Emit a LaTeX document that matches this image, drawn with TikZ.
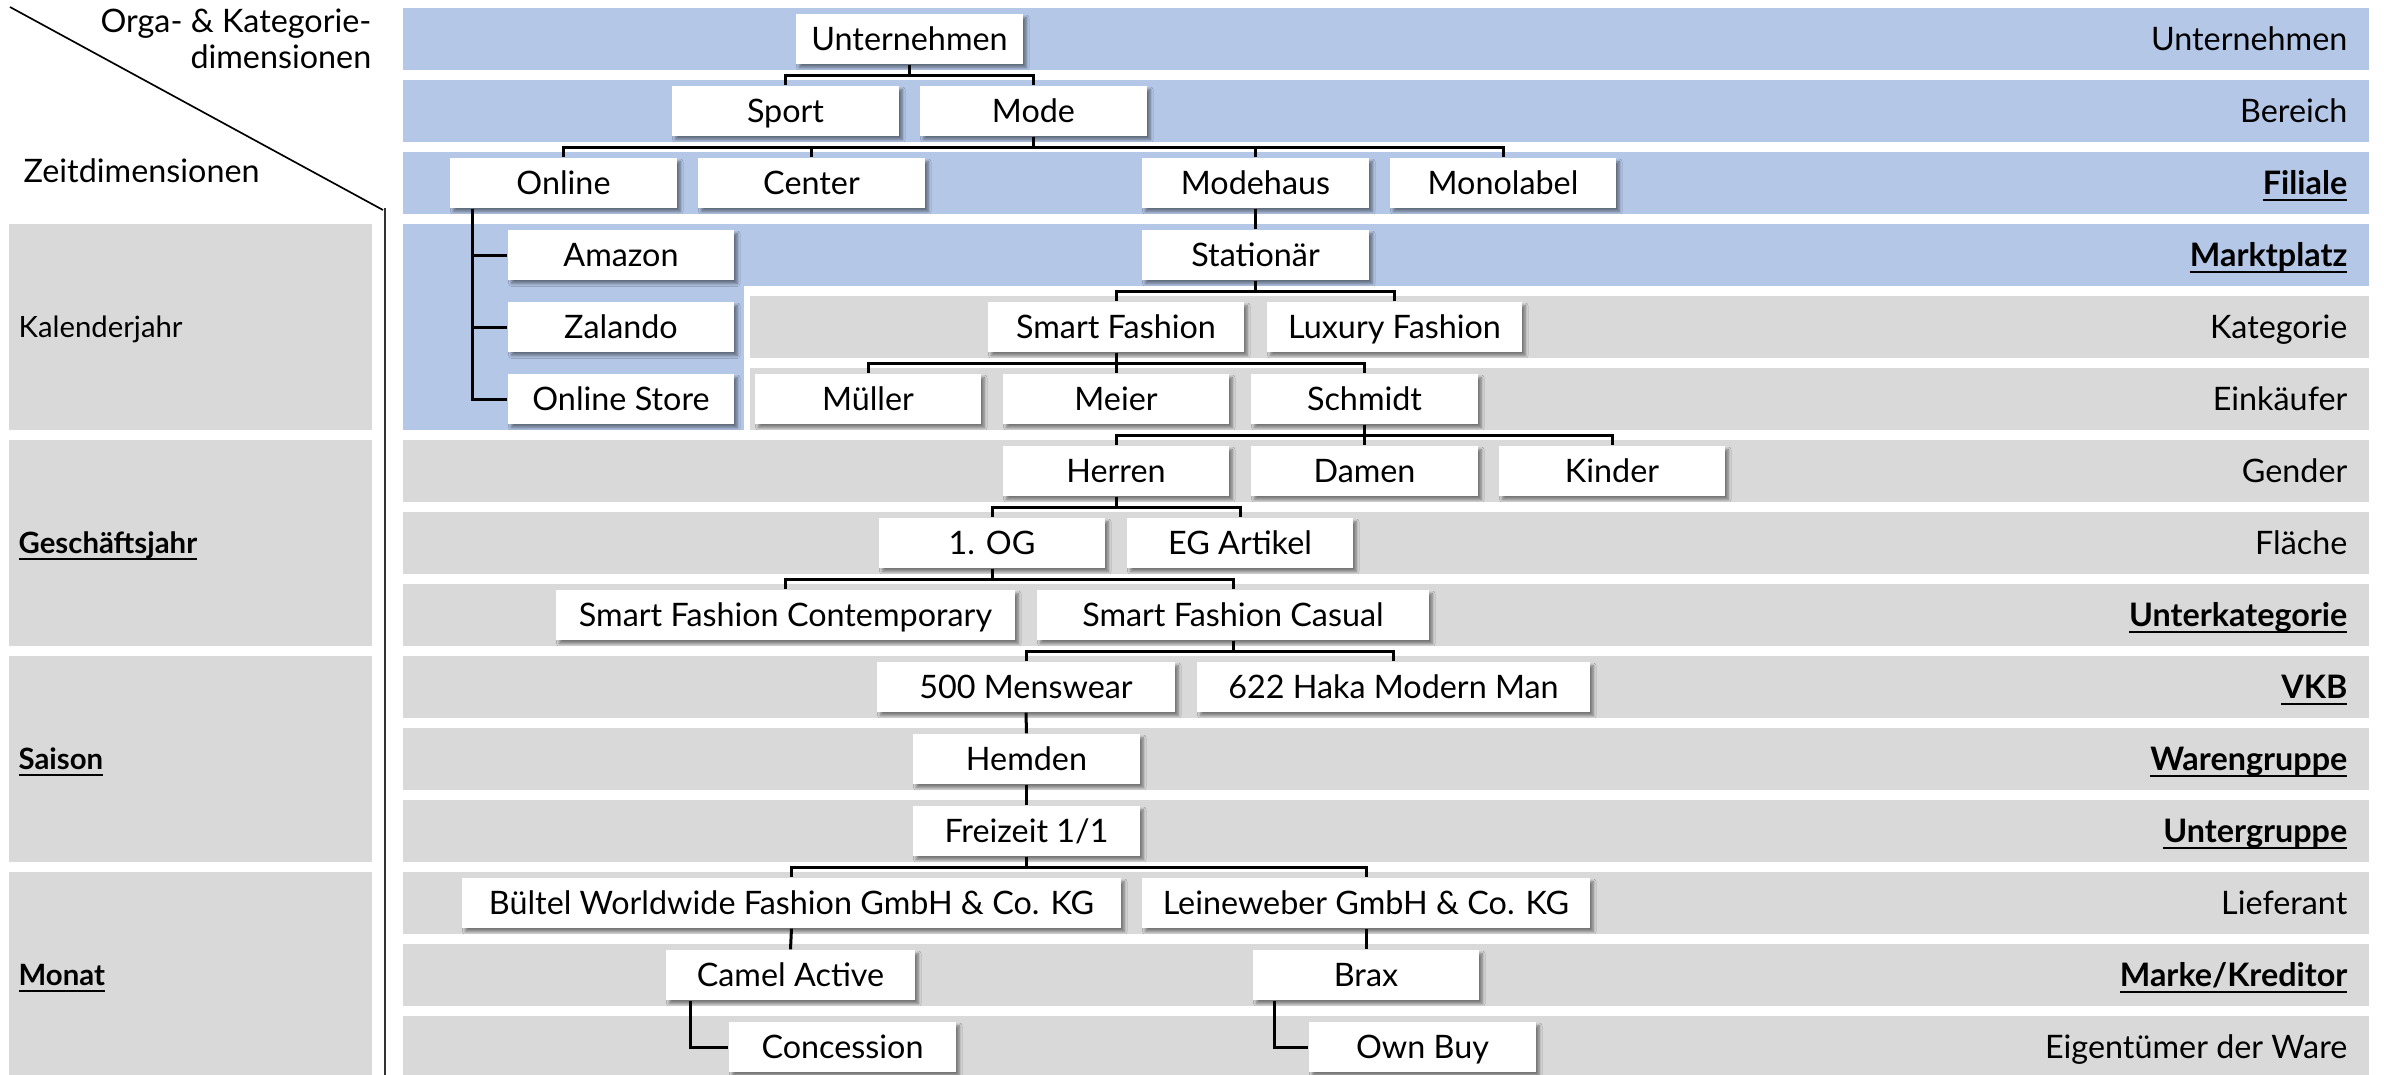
\documentclass[tikz,border=0pt]{standalone}
\usepackage{fontspec}
\setmainfont{Lato}
\usetikzlibrary{shadows.blur}
\definecolor{bandblue}{HTML}{B4C7E7}
\definecolor{bandgrey}{HTML}{D9D9D9}
\newcommand{\ulb}[1]{\setbox0\hbox{\bfseries #1}\rlap{\rule[-2pt]{\wd0}{0.65pt}}\box0}
\newcommand{\bx}[5]{\node[box, minimum width={(#3-#2)*0.3pt}] (#1) at ({(#2+#3)/2},{39+72*#4}) {#5};}
\newcommand{\elb}[2]{\draw[conn] (#1.south) -- ++(0,11) -| (#2.north);}
\newcommand{\strt}[2]{\draw[conn] (#1.south) -- (#2.north);}
\newcommand{\rl}[3]{\node[rlabel] (#1) at (2348,{50+72*#2}) {#3};}
\tikzset{
  x=0.3pt, y=-0.3pt,
  txt/.style={inner sep=0pt, font=\fontsize{9.7}{11.5}\selectfont},
  box/.style={txt, fill=white, minimum height=15pt, text height=6.95pt, text depth=0pt,
    blur shadow={shadow xshift=1pt, shadow yshift=-1.1pt, shadow blur radius=0.8pt, shadow blur steps=6, shadow opacity=45}},
  conn/.style={line width=0.9pt, black},
  rlabel/.style={txt, anchor=base east},
  llabel/.style={inner sep=0pt, font=\fontsize{8.8}{10.5}\selectfont, anchor=base west},
}
\begin{document}
\begin{tikzpicture}
\useasboundingbox (0,0) rectangle (2384,1075);
\clip (0,0) rectangle (2384,1075);
% bands
\foreach \i in {0,...,3} \fill[bandblue] (403,{8+72*\i}) rectangle (2369,{70+72*\i});
\foreach \i in {4,5} \fill[bandgrey] (750,{8+72*\i}) rectangle (2369,{70+72*\i});
\foreach \i in {6,...,14} \fill[bandgrey] (403,{8+72*\i}) rectangle (2369,{70+72*\i});
\fill[bandblue] (403,224) rectangle (744,430);
% left time boxes
\fill[bandgrey] (9,224) rectangle (372,430);
\fill[bandgrey] (9,440) rectangle (372,646);
\fill[bandgrey] (9,656) rectangle (372,862);
\fill[bandgrey] (9,872) rectangle (372,1080);
% header lines
\coordinate (d1) at (10,7);
\coordinate (d2) at (383,210);
\coordinate (v1) at (385,208);
\coordinate (v2) at (385,1080);
\draw[line width=0.5pt] (d1) -- (d2);
\draw[line width=0.7pt, black!80] (v1) -- (v2);
\node[txt, anchor=base east] (orga1) at (372,32) {Orga- \& Kategorie-};
\node[txt, anchor=base east] (orga2) at (372,68) {dimensionen};
\node[txt, anchor=base west] (zeit) at (23,182) {Zeitdimensionen};
% left labels
\node[llabel] (kal) at (18,337) {Kalenderjahr};
\node[llabel] (gj) at (18,553) {\ulb{Geschäftsjahr}};
\node[llabel] (sai) at (18,769) {\ulb{Saison}};
\node[llabel] (mon) at (18,985) {\ulb{Monat}};
% right labels
\rl{r0}{0}{Unternehmen}
\rl{r1}{1}{Bereich}
\rl{r2}{2}{\ulb{Filiale}}
\rl{r3}{3}{\ulb{Marktplatz}}
\rl{r4}{4}{Kategorie}
\rl{r5}{5}{Einkäufer}
\rl{r6}{6}{Gender}
\rl{r7}{7}{Fläche}
\rl{r8}{8}{\ulb{Unterkategorie}}
\rl{r9}{9}{\ulb{VKB}}
\rl{r10}{10}{\ulb{Warengruppe}}
\rl{r11}{11}{\ulb{Untergruppe}}
\rl{r12}{12}{Lieferant}
\rl{r13}{13}{\ulb{Marke/Kreditor}}
\rl{r14}{14}{Eigentümer der Ware}
% boxes
\bx{unt}{796}{1023}{0}{Unternehmen}
\bx{sport}{672}{899}{1}{Sport}
\bx{mode}{920}{1147}{1}{Mode}
\bx{online}{450}{677}{2}{Online}
\bx{center}{698}{925}{2}{Center}
\bx{modehaus}{1142}{1369}{2}{Modehaus}
\bx{mono}{1390}{1616}{2}{Monolabel}
\bx{amazon}{508}{734}{3}{Amazon}
\bx{zalando}{508}{734}{4}{Zalando}
\bx{ostore}{508}{734}{5}{Online Store}
\bx{stat}{1142}{1369}{3}{Stationär}
\bx{smart}{988}{1244}{4}{Smart Fashion}
\bx{luxury}{1267}{1522}{4}{Luxury Fashion}
\bx{mueller}{755}{981}{5}{Müller}
\bx{meier}{1003}{1229}{5}{Meier}
\bx{schmidt}{1251}{1478}{5}{Schmidt}
\bx{herren}{1003}{1229}{6}{Herren}
\bx{damen}{1251}{1478}{6}{Damen}
\bx{kinder}{1499}{1725}{6}{Kinder}
\bx{og}{879}{1105}{7}{1. OG}
\bx{eg}{1127}{1353}{7}{EG Artikel}
\bx{sfcont}{556}{1015}{8}{Smart Fashion Contemporary}
\bx{sfcas}{1037}{1429}{8}{Smart Fashion Casual}
\bx{mens}{877}{1175}{9}{500 Menswear}
\bx{haka}{1197}{1590}{9}{622 Haka Modern Man}
\bx{hemden}{913}{1140}{10}{Hemden}
\bx{frei}{913}{1140}{11}{Freizeit 1/1}
\bx{bueltel}{462}{1121}{12}{Bültel Worldwide Fashion GmbH \& Co. KG}
\bx{leine}{1142}{1590}{12}{Leineweber GmbH \& Co. KG}
\bx{camel}{666}{915}{13}{Camel Active}
\bx{brax}{1253}{1479}{13}{Brax}
\bx{conc}{729}{956}{14}{Concession}
\bx{own}{1309}{1536}{14}{Own Buy}
% connectors
\elb{unt}{sport} \elb{unt}{mode}
\elb{mode}{online} \elb{mode}{center} \elb{mode}{modehaus} \elb{mode}{mono}
\strt{modehaus}{stat}
\draw[conn] ([xshift=6.9pt]online.south west) |- (amazon.west);
\draw[conn] ([xshift=6.9pt]online.south west) |- (zalando.west);
\draw[conn] ([xshift=6.9pt]online.south west) |- (ostore.west);
\elb{stat}{smart} \elb{stat}{luxury}
\elb{smart}{mueller} \elb{smart}{meier} \elb{smart}{schmidt}
\elb{schmidt}{herren} \elb{schmidt}{damen} \elb{schmidt}{kinder}
\elb{herren}{og} \elb{herren}{eg}
\elb{og}{sfcont} \elb{og}{sfcas}
\elb{sfcas}{mens} \elb{sfcas}{haka}
\strt{mens}{hemden}
\strt{hemden}{frei}
\elb{frei}{bueltel} \elb{frei}{leine}
\strt{bueltel}{camel}
\strt{leine}{brax}
\draw[conn] ([xshift=7.5pt]camel.south west) |- (conc.west);
\draw[conn] ([xshift=6.6pt]brax.south west) |- (own.west);
\end{tikzpicture}
\end{document}
